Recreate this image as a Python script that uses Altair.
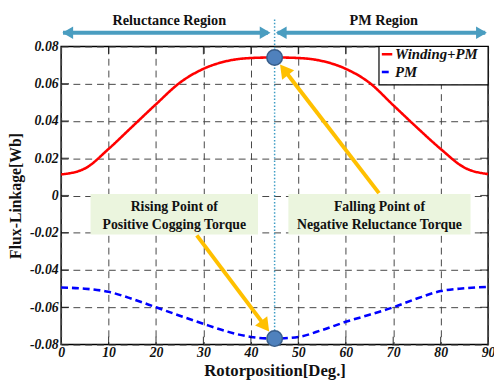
import altair as alt
import pandas as pd

# ---- data ----
angles = [0, 5, 10, 15, 20, 25, 30, 35, 40, 45, 50, 55, 60, 65, 70, 75, 80, 85, 90]
winding_pm = [0.0113, 0.0145, 0.0250, 0.0370, 0.0490, 0.0605, 0.0680, 0.0722, 0.0738, 0.0741,
              0.0738, 0.0722, 0.0680, 0.0605, 0.0485, 0.0365, 0.0250, 0.0150, 0.0115]
pm = [-0.0494, -0.0500, -0.0517, -0.0555, -0.0600, -0.0645, -0.0689, -0.0730, -0.0759, -0.0768,
      -0.0759, -0.0722, -0.0678, -0.0640, -0.0600, -0.0553, -0.0513, -0.0498, -0.0490]
series_names = ["Winding+PM", "PM"]
series_colors = ["#ff0000", "#0000ff"]

marked_x = [45, 45]
marked_y = [0.0741, -0.0768]

x_ticks = [0, 10, 20, 30, 40, 50, 60, 70, 80, 90]
y_ticks = [-0.08, -0.06, -0.04, -0.02, 0, 0.02, 0.04, 0.06, 0.08]

region_labels = ["Reluctance Region", "PM Region"]
box_lines_left = ["Rising Point of", "Positive Cogging Torque"]
box_lines_right = ["Falling Point of", "Negative Reluctance Torque"]

SERIF = "Liberation Serif"

rows = []
for a, w, p in zip(angles, winding_pm, pm):
    rows.append({"angle": a, "series": series_names[0], "value": w})
    rows.append({"angle": a, "series": series_names[1], "value": p})
df = pd.DataFrame(rows)

xs = alt.Scale(domain=[0, 90], nice=False, zero=False)
ys = alt.Scale(domain=[-0.08, 0.08], nice=False, zero=False)

x_axis = alt.Axis(values=x_ticks, title="Rotorposition[Deg.]")
y_axis = alt.Axis(values=y_ticks, title="Flux-Linkage[Wb]",
                  labelExpr="datum.value == 0 ? '0' : (datum.value < 0 ? '-' : '') + format(abs(datum.value), '.2f')")

X = lambda f="x": alt.X(f"{f}:Q", scale=xs, axis=x_axis)
Y = lambda f="y": alt.Y(f"{f}:Q", scale=ys, axis=y_axis)

lines = alt.Chart(df).mark_line(strokeWidth=2.6, clip=False, interpolate="monotone").encode(
    x=X("angle"),
    y=Y("value"),
    color=alt.Color("series:N", scale=alt.Scale(domain=series_names, range=series_colors), legend=None),
    strokeDash=alt.StrokeDash("series:N", scale=alt.Scale(domain=series_names, range=[[1, 0], [7, 4]]), legend=None),
)

# inside ticks along the frame
tick_top_df = pd.DataFrame({"x": x_ticks[1:-1]})
ticks_top = alt.Chart(tick_top_df).mark_tick(color="black", thickness=1.2, size=8, orient="vertical",
                                            yOffset=4).encode(x=X(), y=alt.value(0))
ticks_bot = alt.Chart(tick_top_df).mark_tick(color="black", thickness=1.2, size=8, orient="vertical",
                                            yOffset=-4).encode(x=X(), y=alt.value(303))
tick_y_df = pd.DataFrame({"y": y_ticks[1:-1]})
ticks_left = alt.Chart(tick_y_df).mark_tick(color="black", thickness=1.2, size=8, orient="horizontal",
                                           xOffset=4).encode(y=Y(), x=alt.value(0))
ticks_right = alt.Chart(tick_y_df).mark_tick(color="black", thickness=1.2, size=8, orient="horizontal",
                                            xOffset=-4).encode(y=Y(), x=alt.value(434))

# vertical dotted divider
div_df = pd.DataFrame({"x": [45], "y": [-0.08], "y2": [0.0955]})
divider = alt.Chart(div_df).mark_rule(color="#3d9cc4", strokeDash=[1.5, 2], strokeWidth=1.5, clip=False).encode(
    x=X(), y=Y(), y2="y2:Q")

# top region arrows
arr_df = pd.DataFrame({"x": [0.4, 45.6], "x2": [43.6, 89.4], "y": [0.0874, 0.0874]})
arr_lines = alt.Chart(arr_df).mark_rule(color="#4a9dc0", strokeWidth=4, clip=False).encode(
    x=X(), x2="x2:Q", y=Y())
head_df = pd.DataFrame({"x": [1.4, 43.0, 46.4, 88.6], "y": [0.0874] * 4,
                        "shape": ["triangle-left", "triangle-right", "triangle-left", "triangle-right"]})
arr_heads = alt.Chart(head_df).mark_point(filled=True, color="#4a9dc0", size=160, opacity=1, clip=False).encode(
    x=X(), y=Y(), shape=alt.Shape("shape:N", scale=None))
region_df = pd.DataFrame({"x": [22.8, 68.0], "y": [0.0937, 0.0937], "t": region_labels})
region_text = alt.Chart(region_df).mark_text(font=SERIF, fontWeight="bold", fontSize=14.5, color="#111",
                                             baseline="middle", clip=False).encode(x=X(), y=Y(), text="t:N")

# green boxes
box_df = pd.DataFrame({"x": [6.2, 47.9], "x2": [41.5, 86.3], "y": [0.0008, 0.0008], "y2": [-0.0209, -0.0209]})
boxes = alt.Chart(box_df).mark_rect(color="#ebf5de", clip=False).encode(x=X(), x2="x2:Q", y=Y(), y2="y2:Q")
bt_df = pd.DataFrame({
    "x": [23.85, 23.85, 67.1, 67.1],
    "y": [-0.0061, -0.0158, -0.0061, -0.0158],
    "t": box_lines_left + box_lines_right})
box_text = alt.Chart(bt_df).mark_text(font=SERIF, fontWeight="bold", fontSize=14, color="#111",
                                      baseline="middle").encode(x=X(), y=Y(), text="t:N")

# orange arrows
oa_df = pd.DataFrame({"x": [67.0, 28.6], "x2": [47.0, 43.0], "y": [0.0013, -0.0214], "y2": [0.0675, -0.0701]})
oa_lines = alt.Chart(oa_df).mark_rule(color="#ffc000", strokeWidth=4).encode(x=X(), x2="x2:Q", y=Y(), y2="y2:Q")
oh_df = pd.DataFrame({"x": [47.0, 43.0], "y": [0.0675, -0.0701], "ang": [322, 143]})
oa_heads = alt.Chart(oh_df).mark_point(shape="triangle-up", filled=True, color="#ffc000", size=240, opacity=1).encode(
    x=X(), y=Y(), angle=alt.Angle("ang:Q", scale=None))

# marked points
pt_df = pd.DataFrame({"x": marked_x, "y": marked_y})
points = alt.Chart(pt_df).mark_circle(size=250, color="#4f81bd", stroke="#385d8a", strokeWidth=1.5,
                                      opacity=1, clip=False).encode(x=X(), y=Y())

# legend
lg_box_df = pd.DataFrame({"x": [67.0], "x2": [90.0], "y": [0.08], "y2": [0.0594]})
lg_box = alt.Chart(lg_box_df).mark_rect(fill="white", stroke="black", strokeWidth=1.2, clip=False).encode(
    x=X(), x2="x2:Q", y=Y(), y2="y2:Q")
lg_line_df = pd.DataFrame({"x": [67.6, 67.6], "x2": [69.8, 69.8], "y": [0.0758, 0.0663], "series": series_names})
lg_lines = alt.Chart(lg_line_df).mark_rule(strokeWidth=2.6).encode(
    x=X(), x2="x2:Q", y=Y(),
    color=alt.Color("series:N", scale=alt.Scale(domain=series_names, range=series_colors), legend=None),
    strokeDash=alt.StrokeDash("series:N", scale=alt.Scale(domain=series_names, range=[[1, 0], [4, 2]]), legend=None))
lg_text_df = pd.DataFrame({"x": [70.4, 70.4], "y": [0.0758, 0.0663], "t": series_names})
lg_text = alt.Chart(lg_text_df).mark_text(font=SERIF, fontWeight="bold", fontStyle="italic", fontSize=15,
                                          align="left", baseline="middle", color="#111").encode(
    x=X(), y=Y(), text="t:N")

chart = alt.layer(
    lines, ticks_top, ticks_bot, ticks_left, ticks_right, divider, arr_lines, arr_heads, region_text,
    boxes, box_text, oa_lines, oa_heads, points, lg_box, lg_lines, lg_text
).properties(
    width=434, height=303,
    background="white",
    autosize=alt.AutoSizeParams(type="none"),
    padding={"left": 54, "top": 36, "right": 6, "bottom": 38},
).configure_view(
    stroke="black", strokeWidth=1.5
).configure_axis(
    grid=True, ticks=False, domain=False,
    labelFont=SERIF, labelFontWeight="bold", labelFontStyle="italic", labelFontSize=14,
    labelColor="#111", labelOverlap=False, labelFlush=False,
    titleFont=SERIF, titleFontWeight="bold", titleColor="#111",
    gridColor="#444", gridDash=[7, 5], gridWidth=1,
).configure_axisX(
    labelPadding=1, titleFontSize=17, titlePadding=3,
).configure_axisY(
    labelPadding=3, titleFontSize=16, titlePadding=6,
)

chart.save("out.html", embed_options={"renderer": "svg", "actions": False})
